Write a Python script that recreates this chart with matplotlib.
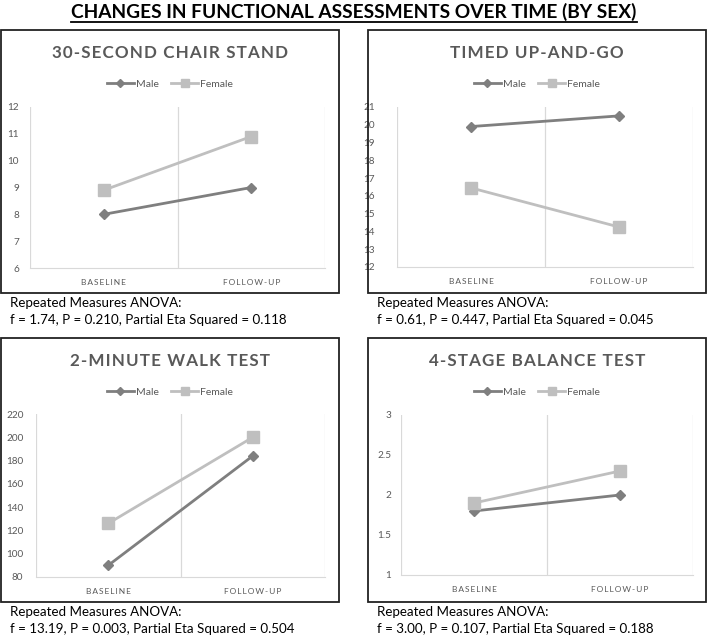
import matplotlib
matplotlib.use("Agg")
import matplotlib.pyplot as plt
from matplotlib.patches import Rectangle
from matplotlib.lines import Line2D
from matplotlib.ticker import FuncFormatter

W, H = 708, 636

time_points = ["BASELINE", "FOLLOW-UP"]
sexes = ["Male", "Female"]

chair_male = [8.0, 9.0]
chair_female = [8.9, 10.9]
tug_male = [19.9, 20.5]
tug_female = [16.45, 14.25]
walk_male = [90, 184]
walk_female = [126, 200]
balance_male = [1.8, 2.0]
balance_female = [1.9, 2.3]

panel_titles = ["30-SECOND CHAIR STAND", "TIMED UP-AND-GO",
                "2-MINUTE WALK TEST", "4-STAGE BALANCE TEST"]
anova_text = [
    "f = 1.74, P = 0.210, Partial Eta Squared = 0.118",
    "f = 0.61, P = 0.447, Partial Eta Squared = 0.045",
    "f = 13.19, P = 0.003, Partial Eta Squared = 0.504",
    "f = 3.00, P = 0.107, Partial Eta Squared = 0.188",
]
ylims = [(6, 12), (12, 21), (80, 220), (1, 3)]
ysteps = [1, 1, 20, 0.5]

male_c = "#7f7f7f"
female_c = "#bfbfbf"
text_c = "#595959"
grid_c = "#d9d9d9"
font = ["Lato", "DejaVu Sans"]
plt.rcParams["font.family"] = font


def fx(px):
    return px / W


def fy(py):
    return 1 - py / H


def spaced(s, sep="\u200a"):
    return sep.join(s)


def fit_width(txt, target):
    # scale font size so the rendered text has the wanted pixel width
    fig.canvas.draw()
    w = txt.get_window_extent().width
    txt.set_fontsize(txt.get_fontsize() * target / w)
    return txt.get_fontsize()


fig = plt.figure(figsize=(W / 100, H / 100), dpi=100)

# boxes: (left, top, right, bottom) in pixels
boxes = [(1, 30, 339, 293), (368, 30, 706, 293),
         (1, 338, 339, 602), (368, 338, 706, 602)]
# plot areas: (left, top, right, bottom)
areas = [(30, 107, 325, 268), (397, 107, 693, 267),
         (36, 414, 325, 577), (401, 415, 693, 575)]
ypads = [8, 16, 9, 7]

series = [(chair_male, chair_female), (tug_male, tug_female),
          (walk_male, walk_female), (balance_male, balance_female)]

title_size = None
anova_size = None
for i in range(4):
    l, t, r, b = boxes[i]
    fig.patches.append(Rectangle((fx(l), fy(b)), fx(r - l), (b - t) / H,
                                 transform=fig.transFigure, fill=False,
                                 edgecolor="#222222", linewidth=1.3))
    al, at, ar, ab = areas[i]
    ax = fig.add_axes([fx(al), fy(ab), fx(ar - al), (ab - at) / H])
    m, f = series[i]
    xs = [0, 1]
    ax.plot(xs, m, color=male_c, linewidth=2, marker="D", markersize=5,
            label="Male")
    ax.plot(xs, f, color=female_c, linewidth=2, marker="s", markersize=8,
            label="Female")
    ax.set_xlim(-0.5, 1.5)
    lo, hi = ylims[i]
    ax.set_ylim(lo, hi)
    n = int(round((hi - lo) / ysteps[i]))
    ax.set_yticks([lo + k * ysteps[i] for k in range(n + 1)])
    ax.yaxis.set_major_formatter(FuncFormatter(lambda v, p: "{:g}".format(v)))
    ax.set_xticks(xs)
    ax.set_xticklabels([spaced(s, "\u2009") for s in time_points])
    ax.tick_params(axis="both", length=0, colors=text_c)
    ax.tick_params(axis="y", pad=ypads[i], labelsize=7.2)
    ax.tick_params(axis="x", pad=8, labelsize=6)
    for sp in ["top", "right", "left"]:
        ax.spines[sp].set_visible(False)
    ax.spines["bottom"].set_color(grid_c)
    for xv in [-0.5, 0.5, 1.5]:
        ax.axvline(xv, color=grid_c, linewidth=0.9, zorder=0)
    cx = fx((l + r) / 2)
    pt = fig.text(cx, fy(t + 23), spaced(panel_titles[i]),
                  ha="center", va="center", fontsize=11, fontweight="bold",
                  color=text_c)
    if title_size is None:
        title_size = fit_width(pt, 236)
    pt.set_fontsize(title_size)
    ax.legend(loc="center", bbox_to_anchor=(cx, fy(t + 54)),
              bbox_transform=fig.transFigure, ncol=2, frameon=False,
              fontsize=7.5, labelcolor=text_c, handlelength=2.6,
              handletextpad=0.2, columnspacing=1.2, markerscale=0.8)
    tx = fx(l + 9)
    a1 = fig.text(tx, fy(b + 10), "Repeated Measures ANOVA:", ha="left",
                  va="center", fontsize=9)
    a2 = fig.text(tx, fy(b + 27), anova_text[i], ha="left", va="center",
                  fontsize=9)
    if anova_size is None:
        anova_size = fit_width(a2, 278)
    a1.set_fontsize(anova_size)
    a2.set_fontsize(anova_size)

title = fig.text(0.5, fy(12), "CHANGES IN FUNCTIONAL ASSESSMENTS OVER TIME (BY SEX)",
                 ha="center", va="center", fontsize=14, fontweight="bold")
fit_width(title, 570)
fig.canvas.draw()
bb = title.get_window_extent()
fig.add_artist(Line2D([bb.x0 / W, bb.x1 / W], [(bb.y0 - 1) / H] * 2,
                      transform=fig.transFigure, color="black", linewidth=1.3))

fig.savefig("out.png", dpi=100)
